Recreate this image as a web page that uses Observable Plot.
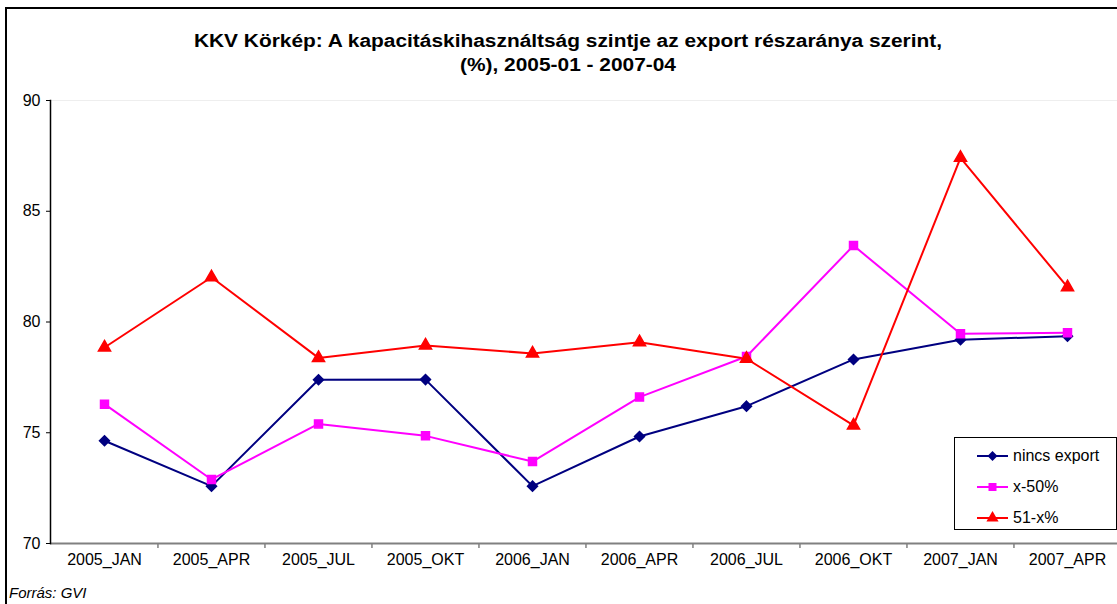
<!DOCTYPE html>
<html><head><meta charset="utf-8">
<script src="https://cdn.jsdelivr.net/npm/d3@7"></script>
<script src="https://cdn.jsdelivr.net/npm/@observablehq/plot@0.6"></script>
<style>
html,body{margin:0;padding:0;overflow:hidden;background:#fff;}
#wrap{position:relative;width:1117px;height:604px;overflow:hidden;font-family:"Liberation Sans",Arial,sans-serif;color:#000;}
#frame{position:absolute;left:5px;top:7px;width:1300px;height:800px;border:2px solid #000;box-sizing:border-box;}
#title{position:absolute;left:0;width:1136px;top:29px;text-align:center;font-weight:bold;font-size:18px;line-height:24px;transform:scaleX(1.16);transform-origin:568px 0;}
#chart{position:absolute;left:0;top:0;}
#source{position:absolute;left:9px;top:584px;font-style:italic;font-size:15px;}
#legend{position:absolute;left:954px;top:437px;width:163px;height:93px;border:1px solid #000;box-sizing:border-box;background:#fff;}
.entry{position:absolute;left:22px;height:20px;display:flex;align-items:center;font-size:16px;}
.entry svg{margin-right:4px;}
</style></head>
<body>
<div id="wrap">
  <div id="frame"></div>
  <div id="chart"></div>
  <div id="title">KKV Körkép: A kapacitáskihasználtság szintje az export részaránya szerint,<br>(%), 2005-01 - 2007-04</div>
  <div id="legend"></div>
  <div id="source">Forrás: GVI</div>
</div>
<script>
const categories = ["2005_JAN","2005_APR","2005_JUL","2005_OKT","2006_JAN","2006_APR","2006_JUL","2006_OKT","2007_JAN","2007_APR"];
const nincsExport = [74.64, 72.59, 77.39, 77.40, 72.59, 74.83, 76.20, 78.31, 79.20, 79.36];
const x50 = [76.29, 72.89, 75.40, 74.86, 73.70, 76.61, 78.44, 83.45, 79.47, 79.51];
const x51 = [78.85, 82.02, 78.38, 78.94, 78.58, 79.09, 78.34, 75.33, 87.41, 81.57];
const seriesNames = ["nincs export", "x-50%", "51-x%"];
const seriesColors = ["#000080", "#FF00FF", "#FF0000"];
const seriesSymbols = ["diamond2", "square", "triangle"];
const yTicks = [70, 75, 80, 85, 90];

const seriesValues = [nincsExport, x50, x51];
const data = [];
seriesValues.forEach((vals, s) => vals.forEach((v, i) => data.push({cat: categories[i], value: v, series: seriesNames[s]})));

const xRange = [50, 1121];
const step = (xRange[1] - xRange[0]) / categories.length;

const plot = Plot.plot({
  width: 1117, height: 604,
  marginTop: 100, marginBottom: 61, marginLeft: 50, marginRight: 0,
  x: {type: "point", domain: categories, range: xRange, padding: 0.5, label: null},
  y: {domain: [70, 90], range: [543, 100], label: null},
  color: {domain: seriesNames, range: seriesColors},
  symbol: {domain: seriesNames, range: seriesSymbols},
  style: {fontFamily: '"Liberation Sans", Arial, sans-serif', fontSize: "16px", color: "#000", background: "transparent", overflow: "visible"},
  marks: [
    Plot.ruleY([90], {stroke: "#eeeeee"}),
    Plot.axisY({ticks: yTicks, tickSize: 4, tickPadding: 6, tickFormat: d => String(d), fontSize: 16, stroke: "#000", strokeOpacity: 1, label: null}),
    Plot.ruleY([70], {stroke: "#808080", strokeWidth: 2}),
    Plot.ruleX(categories.slice(1), {x: d => d, y1: 70, y2: 70, insetBottom: -5, dx: -step / 2, stroke: "#808080", strokeWidth: 1.5}),
    Plot.frame({anchor: "left", stroke: "#000", strokeWidth: 1.5}),
    Plot.axisX({tickSize: 0, tickPadding: 10, fontSize: 16, label: null}),
    Plot.line(data, {x: "cat", y: "value", z: "series", stroke: "series", strokeWidth: 2}),
    Plot.dot(data, {x: "cat", y: "value", symbol: "series", fill: "series", stroke: "series", r: 4.5})
  ]
});
document.getElementById("chart").appendChild(plot);

const legend = document.getElementById("legend");
const symMap = {diamond2: d3.symbolDiamond2, square: d3.symbolSquare, triangle: d3.symbolTriangle};
seriesNames.forEach((name, i) => {
  const e = document.createElement("div");
  e.className = "entry";
  e.style.top = (8 + i * 31) + "px";
  const svg = d3.create("svg").attr("width", 32).attr("height", 20);
  svg.append("line").attr("x1", 0).attr("x2", 31).attr("y1", 10).attr("y2", 10).attr("stroke", seriesColors[i]).attr("stroke-width", 2);
  svg.append("path").attr("transform", "translate(15.5,10)").attr("d", d3.symbol(symMap[seriesSymbols[i]], 64)()).attr("fill", seriesColors[i]);
  e.appendChild(svg.node());
  const t = document.createElement("span");
  t.textContent = name;
  e.appendChild(t);
  legend.appendChild(e);
});
</script>
</body></html>
